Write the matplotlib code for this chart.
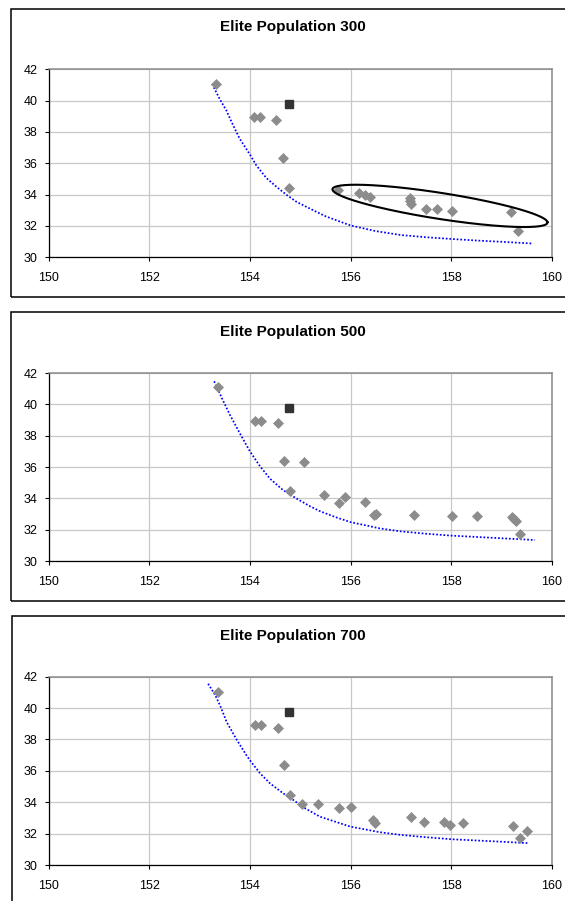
import numpy as np
import matplotlib
matplotlib.use("Agg")
import matplotlib.pyplot as plt
from matplotlib.patches import Rectangle

plt.rcParams['font.family'] = ['Liberation Sans', 'DejaVu Sans']

# ---------------- data ----------------
titles = ["Elite Population 300", "Elite Population 500", "Elite Population 700"]
x_ticks = [150, 152, 154, 156, 158, 160]
y_ticks = [30, 32, 34, 36, 38, 40, 42]

ref_x = 154.78
ref_y = 39.75

x1 = [153.33, 154.09, 154.20, 154.52, 154.66, 154.78, 155.74, 156.17, 156.28, 156.38,
      157.17, 157.18, 157.20, 157.50, 157.72, 158.01, 159.18, 159.33]
y1 = [41.05, 38.92, 38.92, 38.75, 36.34, 34.43, 34.28, 34.09, 33.98, 33.82,
      33.81, 33.60, 33.38, 33.07, 33.07, 32.94, 32.89, 31.68]

x2 = [153.36, 154.11, 154.22, 154.55, 154.68, 155.08, 154.80, 155.47, 155.77, 155.88,
      156.29, 156.46, 156.51, 157.26, 158.01, 158.51, 159.21, 159.24, 159.28, 159.36]
y2 = [41.08, 38.96, 38.96, 38.79, 36.41, 36.33, 34.50, 34.20, 33.68, 34.08,
      33.76, 32.91, 33.00, 32.93, 32.85, 32.85, 32.78, 32.66, 32.57, 31.75]

x3 = [153.36, 154.11, 154.22, 154.55, 154.68, 154.80, 155.03, 155.35, 155.77, 156.00,
      156.45, 156.48, 157.20, 157.45, 157.86, 157.97, 158.23, 159.23, 159.36, 159.51]
y3 = [41.04, 38.92, 38.92, 38.75, 36.38, 34.47, 33.89, 33.87, 33.66, 33.68,
      32.87, 32.66, 33.04, 32.74, 32.72, 32.55, 32.68, 32.51, 31.75, 32.19]

# trend lines
t1x = [153.25, 153.40, 153.53, 153.67, 153.80, 154.00, 154.13, 154.33, 154.53, 154.73,
       154.93, 155.19, 155.50, 156.00, 156.50, 157.00, 157.50, 158.00, 158.50, 159.00, 159.60]
t1y = [41.05, 40.10, 39.38, 38.40, 37.55, 36.56, 35.85, 35.05, 34.49, 33.98,
       33.53, 33.11, 32.62, 32.03, 31.67, 31.42, 31.28, 31.17, 31.07, 30.99, 30.88]

t2x = [153.29, 153.45, 153.60, 153.80, 154.00, 154.20, 154.40, 154.66, 154.93, 155.19,
       155.39, 155.70, 156.00, 156.58, 157.00, 157.50, 158.00, 159.00, 159.66]
t2y = [41.47, 40.35, 39.35, 38.15, 37.00, 36.05, 35.25, 34.52, 33.98, 33.50,
       33.18, 32.80, 32.48, 32.08, 31.89, 31.74, 31.62, 31.45, 31.34]

t3x = [153.17, 153.31, 153.41, 153.54, 153.74, 153.94, 154.02, 154.20, 154.40, 154.66,
       154.86, 155.06, 155.39, 155.99, 156.58, 156.99, 157.50, 158.01, 158.96, 159.54]
t3y = [41.55, 40.83, 40.15, 39.10, 37.97, 36.95, 36.59, 35.85, 35.20, 34.57,
       34.15, 33.68, 33.08, 32.45, 32.09, 31.92, 31.77, 31.64, 31.49, 31.39]

# ellipse annotation on first panel (centre, half-axis vectors in data units)
ell_c = (157.775, 33.28)
ell_u = (2.135, -1.04)
ell_v = (-0.04, 0.86)

panels = [(x1, y1, t1x, t1y), (x2, y2, t2x, t2y), (x3, y3, t3x, t3y)]

# ---------------- layout ----------------
W, H = 565, 901
fig = plt.figure(figsize=(W / 100, H / 100), dpi=100)

ax_left, ax_right = 48.5, 552.0
ax_tops = [69.2, 373.0, 676.7]
ax_bots = [257.3, 561.0, 865.0]
box_tops = [9.0, 311.7, 616.0]
box_bots = [297.0, 601.0, 930.0]
box_lefts = [11.0, 11.0, 12.0]
title_y = [27.0, 331.7, 635.7]
title_x = 293.0


def fx(px):
    return px / W


def fy(py):
    return 1 - py / H


for i, (xs, ys, tx, ty) in enumerate(panels):
    # outer chart box
    bl, bt, bb = box_lefts[i], box_tops[i], box_bots[i]
    fig.add_artist(Rectangle((fx(bl), fy(bb)), fx(700 - bl), fy(bt) - fy(bb),
                             transform=fig.transFigure, fill=False,
                             ec='black', lw=1.1, clip_on=False))
    fig.text(fx(title_x), fy(title_y[i]), titles[i], ha='center', va='center',
             fontsize=11, fontweight='bold')

    ax = fig.add_axes([fx(ax_left), fy(ax_bots[i]), fx(ax_right - ax_left),
                       fy(ax_tops[i]) - fy(ax_bots[i])])
    ax.set_xlim(150, 160)
    ax.set_ylim(30, 42)
    ax.set_xticks(x_ticks)
    ax.set_yticks(y_ticks)
    ax.set_xticklabels([str(v) for v in x_ticks])
    ax.set_yticklabels([str(v) for v in y_ticks])
    ax.grid(True, color='#c8c8c8', lw=0.9)
    ax.set_axisbelow(True)
    for s in ('left', 'bottom'):
        ax.spines[s].set_color('black')
        ax.spines[s].set_linewidth(0.9)
    for s in ('top', 'right'):
        ax.spines[s].set_color('#8a8a8a')
        ax.spines[s].set_linewidth(1.1)
    ax.tick_params(axis='both', direction='out', length=3.2, width=0.8,
                   labelsize=9, colors='black')
    ax.tick_params(axis='x', pad=7.5)
    ax.tick_params(axis='y', pad=4.5)

    ax.plot(tx, ty, color='#0000ff', lw=1.25, linestyle=(0, (1, 1.1)),
            zorder=3)
    ax.plot(xs, ys, linestyle='none', marker='D', ms=4.6, color='#8c8c8c',
            mec='#8c8c8c', mew=0.5, zorder=4)
    ax.plot([ref_x], [ref_y], linestyle='none', marker='s', ms=6.3,
            color='#333333', zorder=5)

    if i == 0:
        t = np.linspace(0, 2 * np.pi, 300)
        ex = ell_c[0] + ell_u[0] * np.cos(t) + ell_v[0] * np.sin(t)
        ey = ell_c[1] + ell_u[1] * np.cos(t) + ell_v[1] * np.sin(t)
        ax.plot(ex, ey, color='black', lw=1.5, zorder=6)

fig.savefig('out.png', dpi=100)
